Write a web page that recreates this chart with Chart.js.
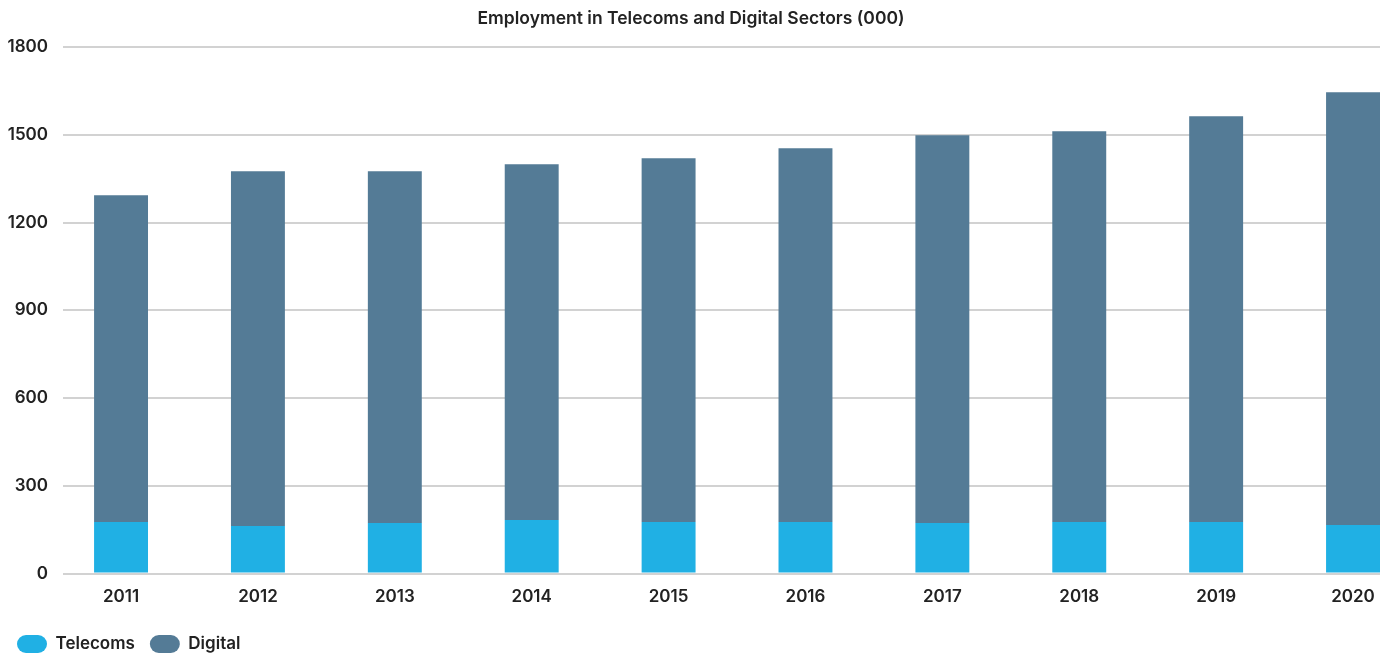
<!DOCTYPE html>
<html>
<head>
<meta charset="utf-8">
<title>Employment in Telecoms and Digital Sectors</title>
<script src="https://cdn.jsdelivr.net/npm/chart.js@4/dist/chart.umd.min.js"></script>
<style>
    html, body { margin: 0; padding: 0; background: #fff; }
    #wrap { width: 1392px; height: 656px; position: relative; }
</style>
</head>
<body>
<div id="wrap"><canvas id="employment-chart"></canvas></div>
<script>
    const years = ["2011", "2012", "2013", "2014", "2015", "2016", "2017", "2018", "2019", "2020"];
    const telecoms = [176, 163, 173, 183, 176, 176, 173, 176, 176, 166];
    const digital = [1117, 1212, 1202, 1216, 1244, 1278, 1325, 1336, 1387, 1479];
    const yTicks = [0, 300, 600, 900, 1200, 1500, 1800];

    const FONT = "Inter, 'Noto Sans', sans-serif";
    const TEXT = "#222";

    // bars sit on a numeric x axis so the year positions can overhang the left edge
    function toPoints(values) {
        return values.map(function (v, i) {
            return { x: i, y: v };
        });
    }

    const config = {
        type: "bar",
        data: {
            datasets: [
                {
                    label: "Telecoms",
                    data: toPoints(telecoms),
                    backgroundColor: "#20b0e4",
                    borderWidth: 0,
                },
                {
                    label: "Digital",
                    data: toPoints(digital),
                    backgroundColor: "#547b96",
                    borderWidth: 0,
                },
            ],
        },
        options: {
            responsive: true,
            maintainAspectRatio: false,
            animation: false,
            categoryPercentage: 1,
            barPercentage: 0.394,
            layout: {
                padding: { left: 2, right: 12, top: 0, bottom: 0 },
            },
            scales: {
                x: {
                    type: "linear",
                    stacked: true,
                    offset: false,
                    min: -0.424,
                    max: 9.197,
                    grid: { display: false, drawTicks: false, offset: false },
                    border: { display: false },
                    afterBuildTicks: function (axis) {
                        axis.ticks = years.map(function (_, i) {
                            return { value: i };
                        });
                    },
                    ticks: {
                        padding: 13,
                        color: TEXT,
                        font: { family: FONT, size: 17, weight: 600 },
                        callback: function (value) {
                            return years[value];
                        },
                    },
                },
                y: {
                    stacked: true,
                    min: 0,
                    max: 1800,
                    afterBuildTicks: function (axis) {
                        axis.ticks = yTicks.map(function (v) {
                            return { value: v };
                        });
                    },
                    afterFit: function (axis) {
                        axis.width = 61;
                    },
                    grid: { color: "#d2d2d2", lineWidth: 2, drawTicks: false },
                    border: { display: false },
                    ticks: {
                        padding: 15,
                        color: TEXT,
                        font: { family: FONT, size: 17, weight: 600 },
                        callback: function (value) {
                            return String(value);
                        },
                    },
                },
            },
            plugins: {
                title: {
                    display: true,
                    text: "Employment in Telecoms and Digital Sectors (000)",
                    color: TEXT,
                    font: { family: FONT, size: 17.5, weight: 600 },
                    padding: { top: 8, bottom: 18 },
                },
                legend: {
                    position: "bottom",
                    align: "start",
                    maxHeight: 36,
                    labels: {
                        boxWidth: 30,
                        boxHeight: 18,
                        useBorderRadius: true,
                        borderRadius: 9,
                        padding: 15,
                        color: TEXT,
                        font: { family: FONT, size: 17, weight: 600 },
                    },
                },
                tooltip: { enabled: false },
            },
        },
    };

    new Chart(document.getElementById("employment-chart").getContext("2d"), config);
</script>
</body>
</html>
